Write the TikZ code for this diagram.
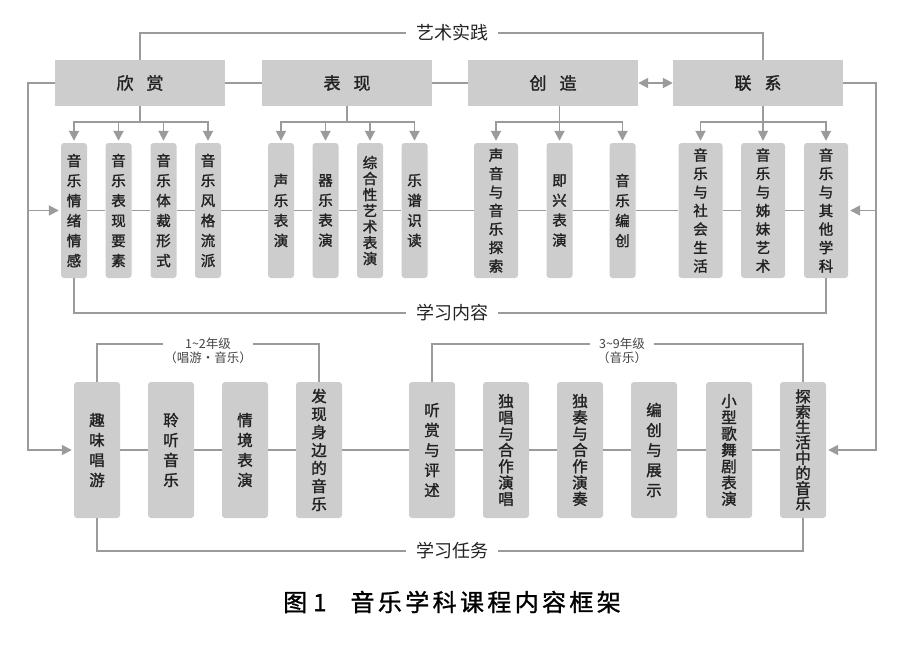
\documentclass[tikz,border=0pt]{standalone}
\usepackage{fontspec}
\usetikzlibrary{arrows.meta}
\newfontfamily\cjk{Noto Sans CJK SC}
\newfontfamily\cjkb{Noto Sans CJK SC}[FakeBold=1.6]
\newfontfamily\capfont{Noto Sans CJK SC}[LetterSpace=14,FakeBold=1.2]
\definecolor{boxg}{HTML}{CDCDCD}
\definecolor{lineg}{HTML}{9B9B9B}
\definecolor{txt}{HTML}{222222}
\begin{document}
\begin{tikzpicture}[x=1pt,y=-1pt,
  top/.style={fill=boxg, minimum width=170pt, minimum height=46pt, inner sep=0pt,
    text=txt, font=\cjkb\fontsize{17}{20}\selectfont},
  sbox/.style={fill=boxg, rounded corners=3pt, minimum width=26pt, minimum height=135pt,
    inner sep=0pt, align=center, text=txt, font=\cjkb\fontsize{14.5}{20}\selectfont},
  wbox/.style={sbox, minimum width=44pt},
  tbox/.style={fill=boxg, rounded corners=3pt, minimum width=46pt, minimum height=136pt,
    inner sep=0pt, align=center, text=txt, font=\cjkb\fontsize{15.5}{20}\selectfont},
  lbl/.style={text=txt, inner xsep=10pt, inner ysep=0pt, font=\cjk\fontsize{18}{20}\selectfont},
  glbl/.style={text=txt!85, inner ysep=0pt, font=\cjk\fontsize{12.5}{14}\selectfont},
  ln/.style={draw=lineg, line width=1.8pt},
  tip/.tip={Triangle[length=10pt,width=10pt]},
  arr/.style={ln, -tip, shorten >=2pt}
]
\useasboundingbox (0,0) rectangle (900,653);

% top boxes
\node[top] (xs) at (140,83) {欣\hspace{13pt}赏};
\node[top] (bx) at (347,83) {表\hspace{13pt}现};
\node[top] (cz) at (553,83) {创\hspace{13pt}造};
\node[top] (lx) at (758,83) {联\hspace{13pt}系};

% row 1
\node[sbox] (a1) at (74,210.5) {音\\乐\\情\\绪\\情\\感};
\node[sbox] (a2) at (118.5,210.5) {音\\乐\\表\\现\\要\\素};
\node[sbox] (a3) at (163.5,210.5) {音\\乐\\体\\裁\\形\\式};
\node[sbox] (a4) at (208,210.5) {音\\乐\\风\\格\\流\\派};
\node[sbox] (b1) at (281,210.5) {声\\乐\\表\\演};
\node[sbox] (b2) at (325.5,210.5) {器\\乐\\表\\演};
\node[sbox, font=\cjkb\fontsize{14.5}{16}\selectfont] (b3) at (370,210.5) {综\\合\\性\\艺\\术\\表\\演};
\node[sbox] (b4) at (414.5,210.5) {乐\\谱\\识\\读};
\node[wbox, font=\cjkb\fontsize{14.5}{18.5}\selectfont] (c1) at (496,210.5) {声\\音\\与\\音\\乐\\探\\索};
\node[sbox] (c2) at (559.5,210.5) {即\\兴\\表\\演};
\node[sbox] (c3) at (622.5,210.5) {音\\乐\\编\\创};
\node[wbox, font=\cjkb\fontsize{14.5}{18.5}\selectfont] (d1) at (700.5,210.5) {音\\乐\\与\\社\\会\\生\\活};
\node[wbox, font=\cjkb\fontsize{14.5}{18.5}\selectfont] (d2) at (763,210.5) {音\\乐\\与\\姊\\妹\\艺\\术};
\node[wbox, font=\cjkb\fontsize{14.5}{18.5}\selectfont] (d3) at (826,210.5) {音\\乐\\与\\其\\他\\学\\科};

% row 2
\node[tbox] (e1) at (97,450) {趣\\味\\唱\\游};
\node[tbox] (e2) at (171,450) {聆\\听\\音\\乐};
\node[tbox] (e3) at (245,450) {情\\境\\表\\演};
\node[tbox, font=\cjkb\fontsize{15.5}{18}\selectfont] (e4) at (319,450) {发\\现\\身\\边\\的\\音\\乐};
\node[tbox] (f1) at (432,450) {听\\赏\\与\\评\\述};
\node[tbox, font=\cjkb\fontsize{15.5}{16.3}\selectfont] (f2) at (506,450) {独\\唱\\与\\合\\作\\演\\唱};
\node[tbox, font=\cjkb\fontsize{15.5}{16.3}\selectfont] (f3) at (580,450) {独\\奏\\与\\合\\作\\演\\奏};
\node[tbox] (f4) at (654,450) {编\\创\\与\\展\\示};
\node[tbox, font=\cjkb\fontsize{15.5}{16.3}\selectfont] (f5) at (729,450) {小\\型\\歌\\舞\\剧\\表\\演};
\node[tbox, font=\cjkb\fontsize{15.5}{15.3}\selectfont] (f6) at (803,450) {探\\索\\生\\活\\中\\的\\音\\乐};

% labels
\node[lbl] (ysj) at (452,33) {艺术实践};
\node[lbl] (xxnr) at (452,313) {学习内容};
\node[lbl] (xxrw) at (452,551) {学习任务};
\node[glbl, inner xsep=22pt] (g12) at (208,344) {1\string~2年级};
\node[glbl] (g12b) at (208,358) {（唱游·音乐）};
\node[glbl, inner xsep=9pt] (g39) at (622,344) {3\string~9年级};
\node[glbl] (g39b) at (622,358) {（音乐）};

% caption
\node[text=black, font=\capfont\fontsize{24}{26}\selectfont] (cap) at (452,602) {图\hspace{6pt}1\hspace{24pt}音乐学科课程内容框架};

% coordinates for outer loops
\coordinate (L0) at (28,83);
\coordinate (L1) at (28,210.5);
\coordinate (L2) at (28,450);
\coordinate (R0) at (876,83);
\coordinate (R1) at (876,210.5);
\coordinate (R2) at (876,450);

% art practice line
\draw[ln] (xs.north) |- (ysj.west);
\draw[ln] (ysj.east) -| (lx.north -| d2.north);

% between top boxes
\draw[ln] (xs.east) -- (bx.west) (bx.east) -- (cz.west);
\draw[ln, tip-tip] (cz.east) -- (lx.west);

% branches
\foreach \c in {a1,a2,a3,a4} \draw[arr] (xs.south) -- ++(0,16) -| (\c.north);
\foreach \c in {b1,b2,b3,b4} \draw[arr] (bx.south) -- ++(0,16) -| (\c.north);
\foreach \c in {c1,c2,c3} \draw[arr] (cz.south -| c2.north) -- ++(0,16) -| (\c.north);
\foreach \c in {d1,d2,d3} \draw[arr] (lx.south -| d2.north) -- ++(0,16) -| (\c.north);

% row 1 through line
\draw[ln] (a1.east) -- (a2.west) (a2.east) -- (a3.west) (a3.east) -- (a4.west)
  (a4.east) -- (b1.west) (b1.east) -- (b2.west) (b2.east) -- (b3.west) (b3.east) -- (b4.west)
  (b4.east) -- (c1.west) (c1.east) -- (c2.west) (c2.east) -- (c3.west)
  (c3.east) -- (d1.west) (d1.east) -- (d2.west) (d2.east) -- (d3.west);

% row 2 through line
\draw[ln] (e1.east) -- (e2.west) (e2.east) -- (e3.west) (e3.east) -- (e4.west)
  (e4.east) -- (f1.west) (f1.east) -- (f2.west) (f2.east) -- (f3.west)
  (f3.east) -- (f4.west) (f4.east) -- (f5.west) (f5.east) -- (f6.west);

% outer loops
\draw[arr] (xs.west) -- (L0) -- (L2) -- (e1.west);
\draw[arr] (L1) -- (a1.west);
\draw[arr] (lx.east) -- (R0) -- (R2) -- (f6.east);
\draw[arr] (R1) -- (d3.east);

% learning content / tasks
\draw[ln] (a1.south) |- (xxnr.west);
\draw[ln] (xxnr.east) -| (d3.south);
\draw[ln] (e1.south) |- (xxrw.west);
\draw[ln] (xxrw.east) -| (f6.south);

% grade brackets
\draw[ln] (e1.north) |- (g12.west);
\draw[ln] (g12.east) -| (e4.north);
\draw[ln] (f1.north) |- (g39.west);
\draw[ln] (g39.east) -| (f6.north);
\end{tikzpicture}
\end{document}
